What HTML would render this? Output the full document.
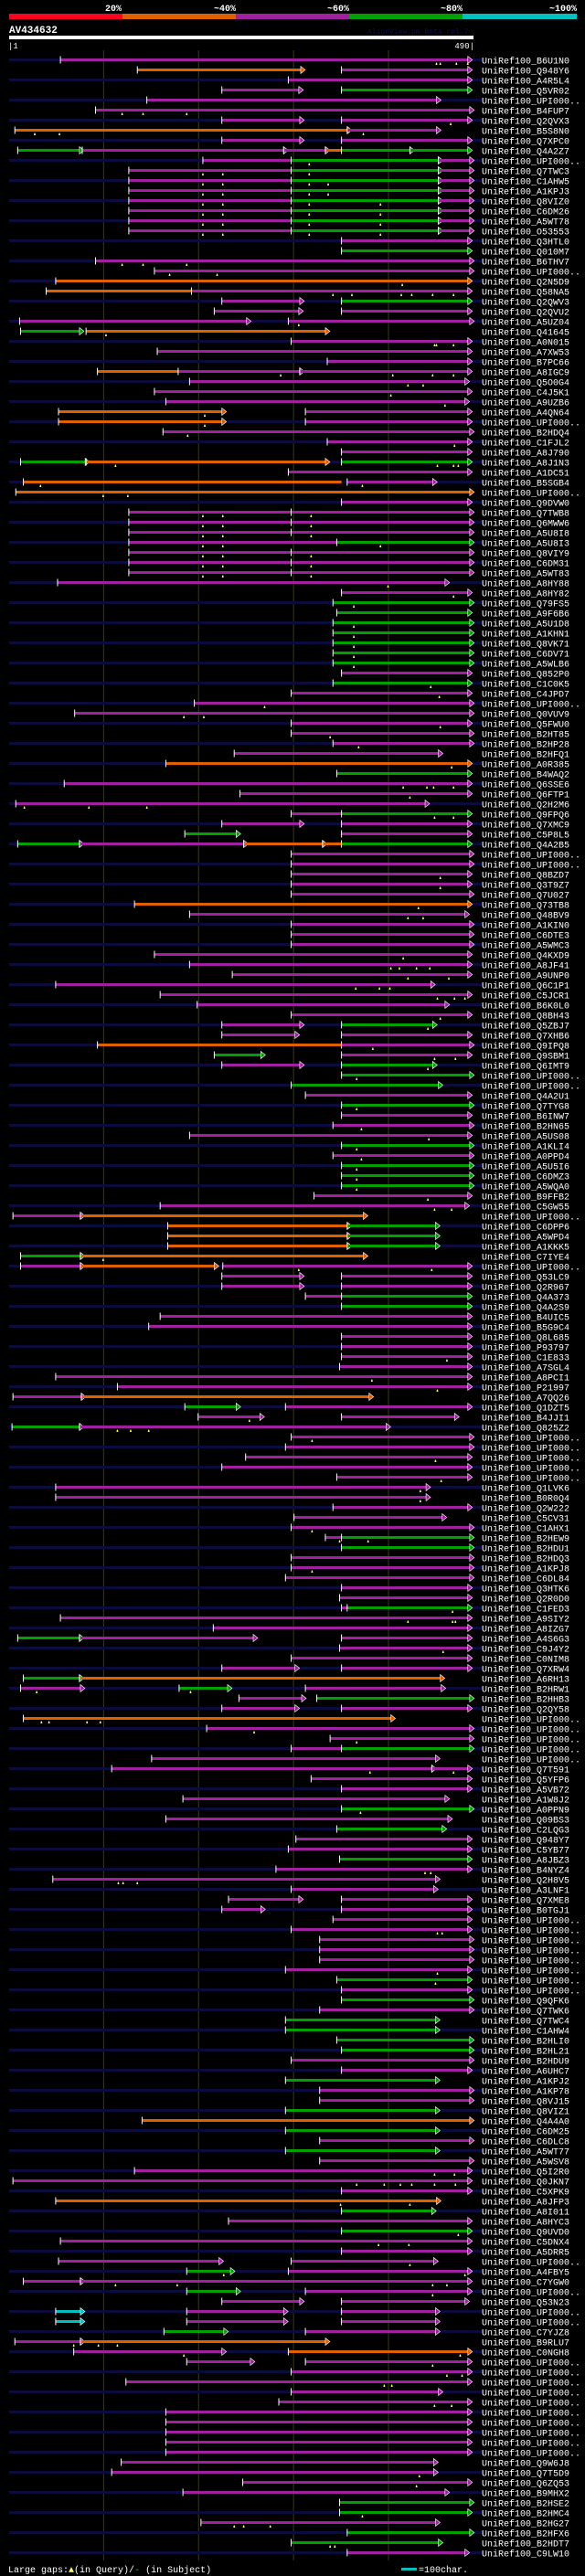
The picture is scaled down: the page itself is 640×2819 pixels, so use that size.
<!DOCTYPE html>
<html><head><meta charset="utf-8">
<style>
html,body{margin:0;padding:0;background:#000;}
body{width:640px;height:2819px;overflow:hidden;}
svg{display:block;}
text{font-family:"Liberation Mono",monospace;}
</style></head>
<body>
<svg id="chart" width="640" height="2819" xmlns="http://www.w3.org/2000/svg">
<rect x="0" y="0" width="640" height="2819" fill="#000"/>
<g id="hdr">
<text x="133" y="12" fill="#fff" font-size="10" font-weight="bold" text-anchor="end">20%</text>
<text x="258" y="12" fill="#fff" font-size="10" font-weight="bold" text-anchor="end">~40%</text>
<text x="382" y="12" fill="#fff" font-size="10" font-weight="bold" text-anchor="end">~60%</text>
<text x="506" y="12" fill="#fff" font-size="10" font-weight="bold" text-anchor="end">~80%</text>
<text x="631" y="12" fill="#fff" font-size="10" font-weight="bold" text-anchor="end">~100%</text>
<rect x="10" y="15" width="124" height="6" fill="#ff0020"/>
<rect x="134" y="15" width="124" height="6" fill="#e06000"/>
<rect x="258" y="15" width="124" height="6" fill="#a020a0"/>
<rect x="382" y="15" width="124" height="6" fill="#00a000"/>
<rect x="506" y="15" width="125" height="6" fill="#00c0c0"/>
<text x="10" y="36" fill="#fff" font-size="11" font-weight="bold">AV434632</text>
<text x="402" y="37" fill="#101048" font-size="8">AlignView.pm Beta rel.7</text>
<rect x="10" y="39" width="508" height="4" fill="#fff"/>
<text x="9" y="53" fill="#fff" font-size="9">|1</text>
<text x="519" y="53" fill="#fff" font-size="9" text-anchor="end">490|</text>
</g>
<g id="grid"></g>
<g id="rows"></g>
<g id="ftr">
<text x="9" y="2815" fill="#fff" font-size="10">Large gaps:<tspan fill="#ffff60">▲</tspan>(in Query)/<tspan fill="#00c0c0">-</tspan> (in Subject)</text>
<rect x="439" y="2810" width="17" height="3" fill="#00c0c0"/>
<text x="458" y="2815" fill="#fff" font-size="10">=100char.</text>
</g>
</svg>
<script>
const queryLength = 490;
const gridTicks = [100, 200, 300, 400];
const hitNames = ["B6U1N0","Q948Y6","A4R5L4","Q5VR02","UPI000..","B4FUP7","Q2QVX3","B5S8N0","Q7XPC0","Q4A2Z7",
"UPI000..","Q7TWC3","C1AHW5","A1KPJ3","Q8VIZ0","C6DM26","A5WT78","O53553","Q3HTL0","Q010M7",
"B6THV7","UPI000..","Q2N5D9","Q58NA5","Q2QWV3","Q2QVU2","A5UZ04","Q41645","A0N015","A7XW53",
"B7PC66","A8IGC9","Q5O0G4","C4J5K1","A9UZB6","A4QN64","UPI000..","B2HDQ4","C1FJL2","A8J790",
"A8J1N3","A1DC51","B5SGB4","UPI000..","Q9DVW0","Q7TWB8","Q6MWW6","A5U8I8","A5U8I3","Q8VIY9",
"C6DM31","A5WT83","A8HY88","A8HY82","Q79FS5","A9F6B6","A5U1D8","A1KHN1","Q8VK71","C6DV71",
"A5WLB6","Q852P0","C1C0K5","C4JPD7","UPI000..","Q0VUV9","Q5FWU0","B2HT85","B2HP28","B2HFQ1",
"A0R385","B4WAQ2","Q6SSE6","Q6FTP1","Q2H2M6","Q9FPQ6","Q7XMC9","C5P8L5","Q4A2B5","UPI000..",
"UPI000..","Q8BZD7","Q3T9Z7","Q7U027","Q73TB8","Q48BV9","A1KIN0","C6DTE3","A5WMC3","Q4KXD9",
"A8JF41","A9UNP0","Q6C1P1","C5JCR1","B6K0L0","Q8BH43","Q5ZBJ7","Q7XHB6","Q9IPQ8","Q9SBM1",
"Q6IMT9","UPI000..","UPI000..","Q4A2U1","Q7TYG8","B6INW7","B2HN65","A5US08","A1KLI4","A0PPD4",
"A5U5I6","C6DMZ3","A5WQA0","B9FFB2","C5GW55","UPI000..","C6DPP6","A5WPD4","A1KKK5","C7IYE4",
"UPI000..","Q53LC9","Q2R967","Q4A373","Q4A2S9","B4UIC5","B5G9C4","Q8L685","P93797","C1E833",
"A7SGL4","A8PCI1","P21997","A7QQ26","Q1DZT5","B4JJI1","Q825Z2","UPI000..","UPI000..","UPI000..",
"UPI000..","UPI000..","Q1LVK6","B0R0Q4","Q2W222","C5CV31","C1AHX1","B2HEW9","B2HDU1","B2HDQ3",
"A1KPJ8","C6DL84","Q3HTK6","Q2R0D0","C1FED3","A9SIY2","A8IZG7","A4S6G3","C9J4Y2","C0NIM8",
"Q7XRW4","A6RH13","B2HRW1","B2HHB3","Q2QY58","UPI000..","UPI000..","UPI000..","UPI000..","UPI000..",
"Q7T591","Q5YFP6","A5VB72","A1W8J2","A0PPN9","Q09BS3","C2LQG3","Q948Y7","C5YB77","A8JBZ3",
"B4NYZ4","Q2H8V5","A3LNF1","Q7XME8","B0TGJ1","UPI000..","UPI000..","UPI000..","UPI000..","UPI000..",
"UPI000..","UPI000..","UPI000..","Q9QFK6","Q7TWK6","Q7TWC4","C1AHW4","B2HLI0","B2HL21","B2HDU9",
"A6UHC7","A1KPJ2","A1KP78","Q8VJ15","Q8VIZ1","Q4A4A0","C6DM25","C6DLC8","A5WT77","A5WSV8",
"Q5I2R0","Q0JKN7","C5XPK9","A8JFP3","A8I011","A8HYC3","Q9UVD0","C5DNX4","A5DRR5","UPI000..",
"A4FBY5","C7YGW0","UPI000..","Q53N23","UPI000..","UPI000..","C7YJZ8","B9RLU7","C0NGH8","UPI000..",
"UPI000..","UPI000..","UPI000..","UPI000..","UPI000..","UPI000..","UPI000..","UPI000..","UPI000..","Q9W6J8",
"Q7T5D9","Q6ZQ53","B9MHX2","B2HSE2","B2HMC4","B2HG27","B2HFX6","B2HDT7","C9LW10"];
// segments per hit: color code + start-end residue, '>' = arrow
const hitSegments = ["p55-484>","o136-308>,p351-484>","p295-484>","p225-306>,g351-484>","p146-451>","p92-486>","p225-307>,p351-484>","o7-357>,p357-451>","p225-307>,p351-484>","g10-75>,p78-290>,p290-334>,o334-351,g351-423>,g423-484>",
"p205-298,g298-453>,p453-486>","p127-298,g298-453>,p453-486>","p127-298,g298-453>,p453-486>","p127-298,g298-453>,p453-486>","p127-298,g298-453>,p453-486>","p127-298,g298-453>,p453-486>","p127-298,g298-453>,p453-486>","p127-298,g298-453>,p453-486>","p351-484>","g351-484>",
"p92-486>","p154-486>","o50-484>","o40-193,p193-484>","p225-307>,g351-484>","p217-306>,p351-484>","p12-251>,p295-486>","g13-75>,o82-334>","p298-484>","p157-484>",
"p336-484>","o94-179,p179-307>,p307-484>","p191-481>","p154-484>","p166-481>","o53-225>,p313-484>","o53-225>,p313-484>","p163-486>","p336-484>","p351-484>",
"g13-81>,o82-334>,g351-484>","p295-484>","o16-351,p357-447>","o8-486>","p351-484>","p127-298,p298-486>","p127-298,p298-486>","p127-298,p298-486>","p127-346,g346-486>","p127-298,p298-486>",
"p127-298,p298-486>","p127-298,p298-486>","p52-460>","p351-484>","g342-486>","g346-484>","g342-486>","g342-486>","g342-486>","g342-486>",
"g342-486>","p351-484>","g342-484>","p298-484>","p196-486>","p70-486>","p298-484>","p298-486>","p342-486>","p238-453>",
"o166-484>","g346-484>","p59-484>","p244-484>","p8-439>","p298-351,g351-484>","p225-307>,p351-484>","g186-240>,p351-484>","g10-75>,p75-248>,o248-331>,o331-351,g351-484>","p298-486>",
"p298-486>","p298-484>","p298-484>","p298-486>","o133-484>","p191-481>","p298-486>","p298-486>","p298-486>","p154-484>",
"p191-484>","p236-484>","p50-445>","p160-484>","p199-460>","p298-484>","p225-307>,g351-447>","p225-302>,p351-484>","o94-351,p351-486>","g217-266>,p351-484>",
"p225-307>,g351-447>","g351-486>","g298-453>","p313-484>","g351-486>","p351-484>","p342-486>","p191-484>","g351-486>","p342-486>",
"g351-486>","g351-486>","g351-486>","p322-484>","p160-481>","p5-76>,o76-374>","o168-357>,g357-450>","o168-357>,g357-450>","o168-357>,g357-450>","g13-76>,o76-374>",
"p13-76>,o76-217>,p226-484>","p225-307>,p351-484>","p225-307>,p351-484>","p313-351,g351-484>","g351-484>","p160-484>","p148-484>","p351-484>","p351-484>","p351-484>",
"p349-484>","p50-484>","p115-484>","p5-77>,o77-380>","g186-240>,p292-484>","p200-265>,p351-470>","g4-75>,p75-398>","p298-486>","p292-486>","p250-484>",
"p225-484>","p346-484>","p50-440>","p50-440>","p342-484>","p301-457>","p298-486>","p334-351,g351-486>","g351-486>","p298-486>",
"p298-486>","p292-486>","p351-484>","p349-484>","p351-357,g357-484>","p55-484>","p216-484>","g10-75>,p75-258>,p351-484>","p349-484>","p298-484>",
"p225-302>,p351-484>","g16-75>,o75-455>","p13-76>,g180-231>,p313-456>","p243-309>,g325-486>","p225-302>,p351-484>","o16-403>","p209-486>","p339-486>","p298-351,g351-486>","p151-450>",
"p109-446>,p446-484>","p319-484>","p351-484>","p184-460>","g351-486>","p166-463>","g346-457>","p303-484>","p295-484>","g349-484>",
"p282-484>","p47-450>","p298-448>","p232-306>,p351-484>","p225-266>,p351-484>","p342-484>","p298-484>","p328-486>","p328-486>","p328-486>",
"p292-484>","g346-484>","p351-484>","g351-486>","p328-486>","g292-450>","g292-450>","g346-486>","g351-486>","p298-486>",
"p351-484>","g292-450>","p328-486>","p328-486>","g292-450>","o141-486>","g292-450>","p328-486>","g292-450>","p328-486>",
"p133-484>","p5-484>","p351-484>","o50-451>","g351-446>","p232-484>","g351-484>","p55-484>","p351-484>","p53-222>,p298-448>",
"g188-234>,p295-484>","p16-76>,p76-484>","g188-240>,p313-484>","p225-307>,p351-481>","c50-76>,p188-290>,p351-450>","c50-76>,p188-290>,p351-450>","g164-227>,p313-450>","p7-76>,o76-334>","p69-225>,o295-484>","p188-255>,p313-484>",
"p298-484>","p124-484>","p298-453>","p285-484>","p166-484>","p166-484>","p166-484>","p166-484>","p166-484>","p119-448>",
"p109-448>","p247-484>","p184-460>","g349-486>","g349-484>","p203-450>","g357-486>","g298-453>","p357-481>"];
// yellow large-gap markers (residue positions)
const gapMarkers = ["451,455,472,484","","","","","120,142,188","466","28,54,374","","",
"317","205,226,317","205,226,317,337","205,226,317,337","205,226,317,392","205,226,317,392","205,226,317,392","205,226,317,392","","",
"120,142,188","170,220","415","342,362,414,425,447,469","","","306","103","449,451,469","",
"","287,405,447,469","421,437","403","460","207","207","189","470","",
"113,452,469,474","","34,373","100,126","","205,226,319","205,226,319","205,226,319","205,226,392","205,226,319",
"205,226,319","205,226,319","400","469","364","","364","364","364","364",
"364","","445","454","270","185,206","455","339","369","",
"467","","416,441,448,469","423","17,85,146","449,469","","","","",
"","455","455","","432","421,437","","","","416",
"403,412,430,444","421,464","366,391,402","452,470,481","","455","442","","384","449,471",
"442","367","","","367","","372","443","367","372",
"367","367","367","442","449,467","","","","","100",
"306,446","","","","","","","","","462",
"","383","452","","","254","115,129,148","320","","450",
"","456","434","434","","","320","349,379","","",
"320","","","","468","421,468,471","","","458","",
"","","30,192","","","35,43,83,97","259","367","","",
"381,469","","","","371","","","","","",
"439,445","116,121,136","","","","","452,457","","","",
"452","450","","","","","","","","",
"","","","","","","","","","",
"449,470","367,396,413,425,449,471","","350,423","","","474","390,422","","423",
"227,481","113,178,447,462","447","","","","","69,95,115","185,476","447",
"462,478","396,404","","449,467","","","","","","",
"433","430","","","373","238,248,276","","339,344",""];

const NS = "http://www.w3.org/2000/svg";
const COLORS = {p:"#a020a0", o:"#e06000", g:"#00a000", c:"#00c0c0"};
const X0 = 10, X1 = 518, ROW0 = 65.5, PITCH = 11;
function xScale(r){ return X0 + (r - 1) * (X1 - X0) / (queryLength - 1); }
function yRow(i){ return ROW0 + i * PITCH; }
function mk(tag, attrs, parent){ const e = document.createElementNS(NS, tag); for (const k in attrs) e.setAttribute(k, attrs[k]); parent.appendChild(e); return e; }

const grid = document.getElementById('grid');
gridTicks.forEach(t => {
  const l = mk('line', {x1: xScale(t)+0.5, x2: xScale(t)+0.5, y1: 55, y2: 2802, stroke: '#3c3c10', 'stroke-width': 1}, grid);
  
  
});

const rows = document.getElementById('rows');
hitNames.forEach((name, i) => {
  const y = yRow(i);
  const g = mk('g', {}, rows);
  
  
  if (i % 2 === 0) {
    const bb = mk('rect', {x: X0, y: y - 1.5, width: 518, height: 3, fill: '#0b0b3c'}, g);
    
    
  }
  const segs = (hitSegments[i] || '').split(',').filter(s => s);
  segs.forEach(s => {
    const m = s.match(/([pogc])(\d+)-(\d+)(>?)/);
    if (!m) return;
    const c = COLORS[m[1]], xs = xScale(+m[2]), xe = xScale(+m[3]);
    const bar = mk('rect', {x: xs, y: y - 1.5, width: Math.max(1, xe - xs), height: 3, fill: c}, g);
    
    
    const tk = mk('rect', {x: xs - 0.5, y: y - 4, width: 1, height: 8, fill: '#fff'}, g);
    
    
    if (m[4]) {
      const ar = mk('polygon', {points: `${xe},${y-4} ${xe+5},${y} ${xe},${y+4}`, fill: c, stroke: '#fff', 'stroke-width': 0.6}, g);
      
      
    }
  });
  (gapMarkers[i] || '').split(',').filter(s => s).forEach(v => {
    const mx = xScale(+v);
    const mm = mk('polygon', {points: `${mx-1},${y+5.5} ${mx-0.5},${y+3} ${mx+0.5},${y+3} ${mx+1},${y+5.5}`, fill: '#ffff60'}, g);
    
    
  });
  const lb = mk('text', {x: 527, y: y + 4, fill: '#fff', 'font-size': 10}, g);
  lb.textContent = 'UniRef100_' + name;
  
  
});
</script>
</body></html>
